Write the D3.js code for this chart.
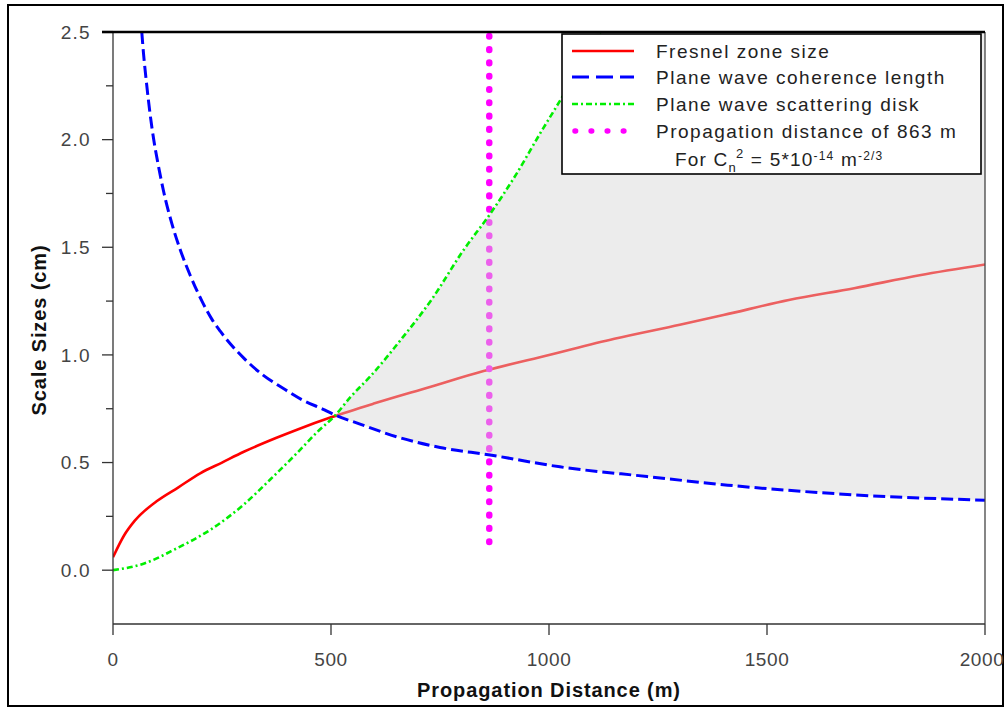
<!DOCTYPE html>
<html>
<head>
<meta charset="utf-8">
<script src="https://cdn.jsdelivr.net/npm/d3@7"></script>
<style>
body { margin: 0; background: #fff; }
text { font-family: 'Liberation Sans', Arial, sans-serif; }
</style>
</head>
<body>
<svg id="chart" width="1007" height="708"></svg>
<script>
'use strict';

// values (distance in m, size in cm)
let fresnelDist = [0, 25, 50, 100, 150, 200, 250, 300, 375, 425, 500, 600, 725, 850, 1000, 1150, 1300, 1400, 1550, 1700, 1850, 2000];
let fresnelSize = [0.06, 0.16, 0.23, 0.32, 0.385, 0.45, 0.50, 0.55, 0.615, 0.655, 0.71, 0.775, 0.85, 0.925, 1.00, 1.075, 1.14, 1.185, 1.255, 1.31, 1.37, 1.42];

let coherDist = [66, 70, 77, 85, 93, 104, 116, 135, 154, 177, 204, 227, 246, 300, 345, 390, 435, 485, 510, 565, 650, 750, 865, 1025, 1225, 1410, 1700, 2000];
let coherSize = [2.5, 2.40, 2.26, 2.12, 2.005, 1.88, 1.76, 1.61, 1.49, 1.37, 1.25, 1.165, 1.11, 0.985, 0.905, 0.845, 0.79, 0.745, 0.72, 0.68, 0.62, 0.57, 0.535, 0.48, 0.435, 0.395, 0.35, 0.325];

let scatDist = [0, 70, 145, 225, 300, 360, 420, 470, 510, 545, 590, 660, 730, 805, 865, 925, 980, 1025, 1118];
let scatSize = [0.0, 0.03, 0.10, 0.19, 0.305, 0.42, 0.54, 0.645, 0.72, 0.805, 0.90, 1.07, 1.255, 1.49, 1.655, 1.84, 2.03, 2.18, 2.5];

let propDist = 863;
let propRange = [0.1, 2.5];
let shadeFrom = 510;

let xTicks = [0, 500, 1000, 1500, 2000];
let yTicks = [0, 0.5, 1, 1.5, 2, 2.5];
let yMinor = [0.25, 0.75, 1.25, 1.75, 2.25];

let legendLabels = ['Fresnel zone size', 'Plane wave coherence length', 'Plane wave scattering disk', 'Propagation distance of 863 m'];

function pairs(xs, ys) {
	return xs.map(function(d, i) { return [d, ys[i]]; });
}

let svg = d3.select('#chart');
let L = 113, R = 985, T = 32, B = 624;

let x = d3.scaleLinear().domain([0, 2000]).range([L, R]);
let y = d3.scaleLinear().domain([-0.25, 2.5]).range([B, T]);

// outer frame
svg.append('rect')
	.attr('x', 8).attr('y', 5).attr('width', 995).attr('height', 701)
	.attr('fill', 'none').attr('stroke', '#000').attr('stroke-width', 2);

let defs = svg.append('defs');
defs.append('clipPath').attr('id', 'plotclip')
	.append('rect').attr('x', L).attr('y', T).attr('width', R - L).attr('height', B - T);

let line = d3.line().curve(d3.curveMonotoneX).x(function(d) { return x(d[0]); }).y(function(d) { return y(d[1]); });

let fres = pairs(fresnelDist, fresnelSize);
let coher = pairs(coherDist, coherSize);
let scat = pairs(scatDist, scatSize);

// region above the coherence curve, right of the crossing
let above = coher.filter(function(d) { return d[0] >= shadeFrom; });
defs.append('clipPath').attr('id', 'aboveblue')
	.append('path')
	.attr('d', d3.area().curve(d3.curveMonotoneX)
		.x(function(d) { return x(d[0]); })
		.y0(y(2.5))
		.y1(function(d) { return y(d[1]); })(above));

let plot = svg.append('g').attr('clip-path', 'url(#plotclip)');

plot.append('path')
	.attr('d', line(fres))
	.attr('fill', 'none').attr('stroke', '#ff0000').attr('stroke-width', 2.6);

plot.append('path')
	.attr('d', line([[propDist, propRange[1]], [propDist, propRange[0]]]))
	.attr('fill', 'none').attr('stroke', '#ff00ff').attr('stroke-width', 6.5)
	.attr('stroke-linecap', 'round')
	.attr('stroke-dasharray', '0.6 12.7')
	.attr('stroke-dashoffset', -4);

// shaded zone between scattering disk and coherence length
let below = scat.filter(function(d) { return d[0] >= shadeFrom; }).concat([[2000, 2.5]]);
plot.append('g').attr('clip-path', 'url(#aboveblue)')
	.append('path')
	.attr('d', d3.area().curve(d3.curveMonotoneX)
		.x(function(d) { return x(d[0]); })
		.y0(B)
		.y1(function(d) { return y(d[1]); })(below))
	.attr('fill', '#d4d4d4').attr('fill-opacity', 0.45);

plot.append('path')
	.attr('d', line(scat))
	.attr('fill', 'none').attr('stroke', '#00ee00').attr('stroke-width', 2.6)
	.attr('stroke-dasharray', '6 3 2 3');

plot.append('path')
	.attr('d', line(coher))
	.attr('fill', 'none').attr('stroke', '#0000ff').attr('stroke-width', 3)
	.attr('stroke-dasharray', '12 5');

// axes
let ax = svg.append('g').attr('class', 'axes');
ax.append('line').attr('x1', L).attr('x2', L).attr('y1', T).attr('y2', B).attr('stroke', '#333').attr('stroke-width', 1.3);
ax.append('line').attr('x1', R).attr('x2', R).attr('y1', T).attr('y2', B).attr('stroke', '#444').attr('stroke-width', 1.3);
ax.append('line').attr('x1', L).attr('x2', R).attr('y1', B).attr('y2', B).attr('stroke', '#333').attr('stroke-width', 1.3);
ax.append('line').attr('x1', L).attr('x2', R).attr('y1', T).attr('y2', T).attr('stroke', '#000').attr('stroke-width', 2.6);

ax.selectAll('.ymaj').data(yTicks).enter().append('line')
	.attr('x1', L - 11).attr('x2', L)
	.attr('y1', function(d) { return y(d); }).attr('y2', function(d) { return y(d); })
	.attr('stroke', function(d) { return d === 2.5 ? '#000' : '#333'; })
	.attr('stroke-width', function(d) { return d === 2.5 ? 2.6 : 1.3; });
ax.selectAll('.ymin').data(yMinor).enter().append('line')
	.attr('x1', L - 7).attr('x2', L)
	.attr('y1', function(d) { return y(d); }).attr('y2', function(d) { return y(d); })
	.attr('stroke', '#333').attr('stroke-width', 1.3);
ax.selectAll('.ylab').data(yTicks).enter().append('text')
	.attr('x', 91).attr('y', function(d) { return y(d); })
	.attr('dy', '0.36em').attr('text-anchor', 'end')
	.attr('font-size', 19).attr('letter-spacing', 1.3).attr('fill', '#444')
	.text(d3.format('.1f'));

ax.selectAll('.xmaj').data(xTicks).enter().append('line')
	.attr('x1', function(d) { return x(d); }).attr('x2', function(d) { return x(d); })
	.attr('y1', B).attr('y2', B + 11)
	.attr('stroke', '#333').attr('stroke-width', 1.3);
ax.selectAll('.xlab').data(xTicks).enter().append('text')
	.attr('x', function(d) { return x(d) - (d === 2000 ? 3 : 0); }).attr('y', 659)
	.attr('dy', '0.36em').attr('text-anchor', 'middle')
	.attr('font-size', 19).attr('letter-spacing', 0.6).attr('fill', '#444')
	.text(function(d) { return d; });

svg.append('text')
	.attr('x', 549).attr('y', 690).attr('dy', '0.36em').attr('text-anchor', 'middle')
	.attr('font-size', 20).attr('letter-spacing', 0.9).attr('font-weight', 'bold').attr('fill', '#111')
	.text('Propagation Distance (m)');
svg.append('text')
	.attr('transform', 'translate(39,330) rotate(-90)')
	.attr('dy', '0.36em').attr('text-anchor', 'middle')
	.attr('font-size', 20).attr('letter-spacing', 0.9).attr('font-weight', 'bold').attr('fill', '#111')
	.text('Scale Sizes (cm)');

// legend
let lg = svg.append('g').attr('class', 'legend');
lg.append('rect')
	.attr('x', 562).attr('y', 34).attr('width', 419).attr('height', 140)
	.attr('fill', '#fff').attr('stroke', '#000').attr('stroke-width', 1.6);

let rows = [51, 77, 104, 131];
let sample = [
	{stroke: '#ff0000', w: 2.6, dash: null, cap: 'butt'},
	{stroke: '#0000ff', w: 3, dash: '17 7', cap: 'butt'},
	{stroke: '#00ee00', w: 2.6, dash: '6 3 2 3', cap: 'butt'},
	{stroke: '#ff00ff', w: 5.5, dash: '0.6 15.5', cap: 'round'}
];
for (let i=0 ; i<legendLabels.length ; ++i) {
	let s = sample[i];
	let ln = lg.append('line')
		.attr('x1', i === 3 ? 575 : 572).attr('x2', 634)
		.attr('y1', rows[i]).attr('y2', rows[i])
		.attr('stroke', s.stroke).attr('stroke-width', s.w)
		.attr('stroke-linecap', s.cap);
	if (s.dash) {
		ln.attr('stroke-dasharray', s.dash);
	}
	lg.append('text')
		.attr('x', 656).attr('y', rows[i]).attr('dy', '0.36em')
		.attr('font-size', 19).attr('letter-spacing', 1.5).attr('fill', '#222')
		.text(legendLabels[i]);
}

let note = lg.append('text')
	.attr('x', 675).attr('y', 159).attr('dy', '0.36em')
	.attr('font-size', 19).attr('letter-spacing', 1.2).attr('fill', '#222');
note.append('tspan').text('For C');
note.append('tspan').attr('dy', 6).attr('font-size', 13).text('n');
note.append('tspan').attr('dy', -14).attr('dx', -1).attr('font-size', 13).text('2');
note.append('tspan').attr('dy', 8).text(' = 5*10');
note.append('tspan').attr('dy', -6).attr('font-size', 12).text('-14');
note.append('tspan').attr('dy', 6).text(' m');
note.append('tspan').attr('dy', -6).attr('font-size', 12).text('-2/3');
</script>
</body>
</html>
